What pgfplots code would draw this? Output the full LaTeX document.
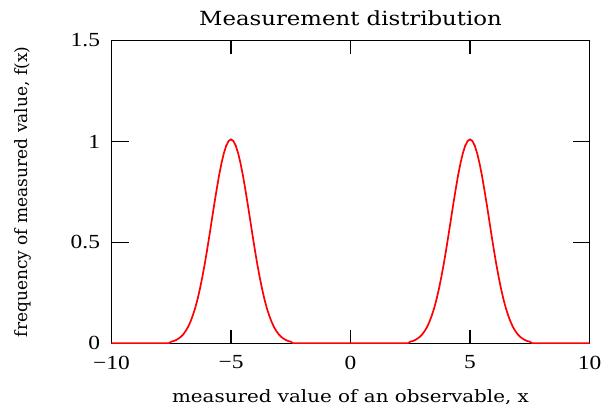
\documentclass[border=0pt]{standalone}
\usepackage{fontspec}
\setmainfont{DejaVu Serif}[FakeStretch=1.17]
\newfontfamily\yfont{DejaVu Serif}
\newfontfamily\tickfont{Liberation Serif}[FakeStretch=1.17]
\usepackage{pgfplots}
\pgfplotsset{compat=1.18}

\begin{document}
\begin{tikzpicture}
\path[use as bounding box] (-111.5pt,-67.7pt) rectangle (493.5pt,343.3pt);
\begin{axis}[
    scale only axis,
    width=478pt, height=302.8pt,
    xmin=-10, xmax=10,
    ymin=0, ymax=1.5,
    xtick={-10,-5,0,5,10},
    xticklabels={−10,−5,0,5,10},
    ytick={0,0.5,1,1.5},
    yticklabels={0,0.5,1,1.5},
    tick align=inside,
    xtick style={/pgfplots/major tick length=13.5pt, line width=1.5pt, black},
    ytick style={/pgfplots/major tick length=17pt, line width=1.5pt, black},
    axis line style={line width=1.5pt, black},
    /pgf/number format/assume math mode=true,
    ticklabel style={font=\tickfont\fontsize{20}{22}\selectfont},
    xticklabel style={yshift=-9pt},
    yticklabel style={xshift=-8pt},
    title={Measurement distribution},
    title style={at={(axis description cs:0.5,1)}, anchor=base, yshift=8.5pt,
        font=\fontsize{19.5}{22}\selectfont},
    xlabel={measured value of an observable, x},
    xlabel style={at={(axis description cs:0.5,0)}, anchor=base, yshift=-59pt,
        font=\fontsize{17}{20}\selectfont},
    ylabel={frequency of measured value, f(x)},
    ylabel style={at={(axis description cs:-0.185,0.5)}, anchor=center,
        font=\yfont\fontsize{17}{20}\selectfont},
]
\addplot[red, line width=1.7pt] coordinates {
    (-10,0) (-7.6,0)
    (-7.5,0.008) (-7.4,0.011) (-7.3,0.016) (-7.2,0.023) (-7.1,0.032)
    (-7.0,0.044) (-6.9,0.060) (-6.8,0.080) (-6.7,0.106) (-6.6,0.137)
    (-6.5,0.174) (-6.4,0.218) (-6.3,0.270) (-6.2,0.328) (-6.1,0.392)
    (-6.0,0.462) (-5.9,0.536) (-5.8,0.613) (-5.7,0.689) (-5.6,0.762)
    (-5.5,0.831) (-5.4,0.891) (-5.3,0.941) (-5.2,0.979) (-5.1,1.002)
    (-5.0,1.010)
    (-4.9,1.002) (-4.8,0.979) (-4.7,0.941) (-4.6,0.891) (-4.5,0.831)
    (-4.4,0.762) (-4.3,0.689) (-4.2,0.613) (-4.1,0.536) (-4.0,0.462)
    (-3.9,0.392) (-3.8,0.328) (-3.7,0.270) (-3.6,0.218) (-3.5,0.174)
    (-3.4,0.137) (-3.3,0.106) (-3.2,0.080) (-3.1,0.060) (-3.0,0.044)
    (-2.9,0.032) (-2.8,0.023) (-2.7,0.016) (-2.6,0.011) (-2.5,0.008)
    (-2.4,0)
    (2.4,0)
    (2.5,0.008) (2.6,0.011) (2.7,0.016) (2.8,0.023) (2.9,0.032)
    (3.0,0.044) (3.1,0.060) (3.2,0.080) (3.3,0.106) (3.4,0.137)
    (3.5,0.174) (3.6,0.218) (3.7,0.270) (3.8,0.328) (3.9,0.392)
    (4.0,0.462) (4.1,0.536) (4.2,0.613) (4.3,0.689) (4.4,0.762)
    (4.5,0.831) (4.6,0.891) (4.7,0.941) (4.8,0.979) (4.9,1.002)
    (5.0,1.010)
    (5.1,1.002) (5.2,0.979) (5.3,0.941) (5.4,0.891) (5.5,0.831)
    (5.6,0.762) (5.7,0.689) (5.8,0.613) (5.9,0.536) (6.0,0.462)
    (6.1,0.392) (6.2,0.328) (6.3,0.270) (6.4,0.218) (6.5,0.174)
    (6.6,0.137) (6.7,0.106) (6.8,0.080) (6.9,0.060) (7.0,0.044)
    (7.1,0.032) (7.2,0.023) (7.3,0.016) (7.4,0.011) (7.5,0.008)
    (7.6,0) (10,0)
};
\end{axis}
\end{tikzpicture}
\end{document}
